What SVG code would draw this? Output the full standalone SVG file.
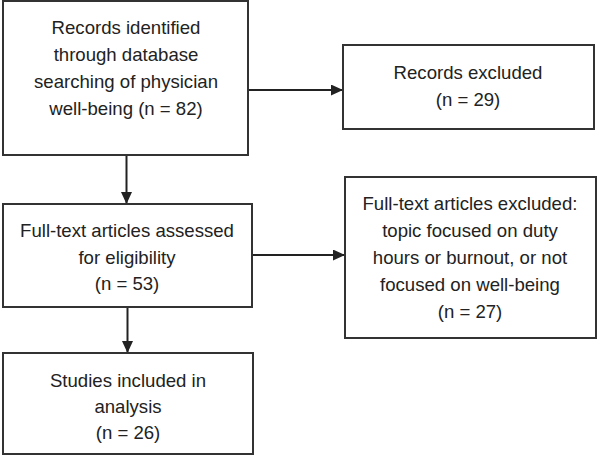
<svg xmlns="http://www.w3.org/2000/svg" width="598" height="455" viewBox="0 0 598 455">
<style>
.box{fill:#fff;stroke:#333;stroke-width:2}
.t{font-family:"Liberation Sans",Arial,sans-serif;font-size:18.6px;fill:#222;text-anchor:middle}
.c{stroke:#222;stroke-width:2;fill:none}
</style>
<defs>
<marker id="ah" viewBox="0 0 12 11" refX="12" refY="5.5" markerWidth="12" markerHeight="11" orient="auto" markerUnits="userSpaceOnUse">
<path d="M0,0 L12,5.5 L0,11 z" fill="#222"/>
</marker>
</defs>
<rect width="598" height="455" fill="#fff"/>
<g id="connectors">
<line class="c" x1="126.5" y1="155" x2="126.5" y2="204" marker-end="url(#ah)"/>
<line class="c" x1="248" y1="90" x2="343" y2="90" marker-end="url(#ah)"/>
<line class="c" x1="252" y1="255" x2="345" y2="255" marker-end="url(#ah)"/>
<line class="c" x1="127.5" y1="307" x2="127.5" y2="353" marker-end="url(#ah)"/>
</g>
<g id="n1">
<rect class="box" x="3" y="1" width="245" height="154"/>
<text class="t"><tspan x="126" y="34">Records identified</tspan><tspan x="126" y="61">through database</tspan><tspan x="126" y="88">searching of physician</tspan><tspan x="126" y="115">well-being (n = 82)</tspan></text>
</g>
<g id="n2">
<rect class="box" x="343" y="45" width="251" height="84"/>
<text class="t"><tspan x="468" y="79">Records excluded</tspan><tspan x="468" y="106">(n = 29)</tspan></text>
</g>
<g id="n3">
<rect class="box" x="3" y="204" width="249" height="103"/>
<text class="t"><tspan x="127" y="237">Full-text articles assessed</tspan><tspan x="127" y="264">for eligibility</tspan><tspan x="127" y="290">(n = 53)</tspan></text>
</g>
<g id="n4">
<rect class="box" x="345" y="177" width="251" height="161"/>
<text class="t"><tspan x="470" y="210">Full-text articles excluded:</tspan><tspan x="470" y="237">topic focused on duty</tspan><tspan x="470" y="264">hours or burnout, or not</tspan><tspan x="470" y="291">focused on well-being</tspan><tspan x="470" y="318">(n = 27)</tspan></text>
</g>
<g id="n5">
<rect class="box" x="3" y="353" width="250" height="101"/>
<text class="t"><tspan x="128" y="387">Studies included in</tspan><tspan x="128" y="413">analysis</tspan><tspan x="128" y="439">(n = 26)</tspan></text>
</g>
</svg>
